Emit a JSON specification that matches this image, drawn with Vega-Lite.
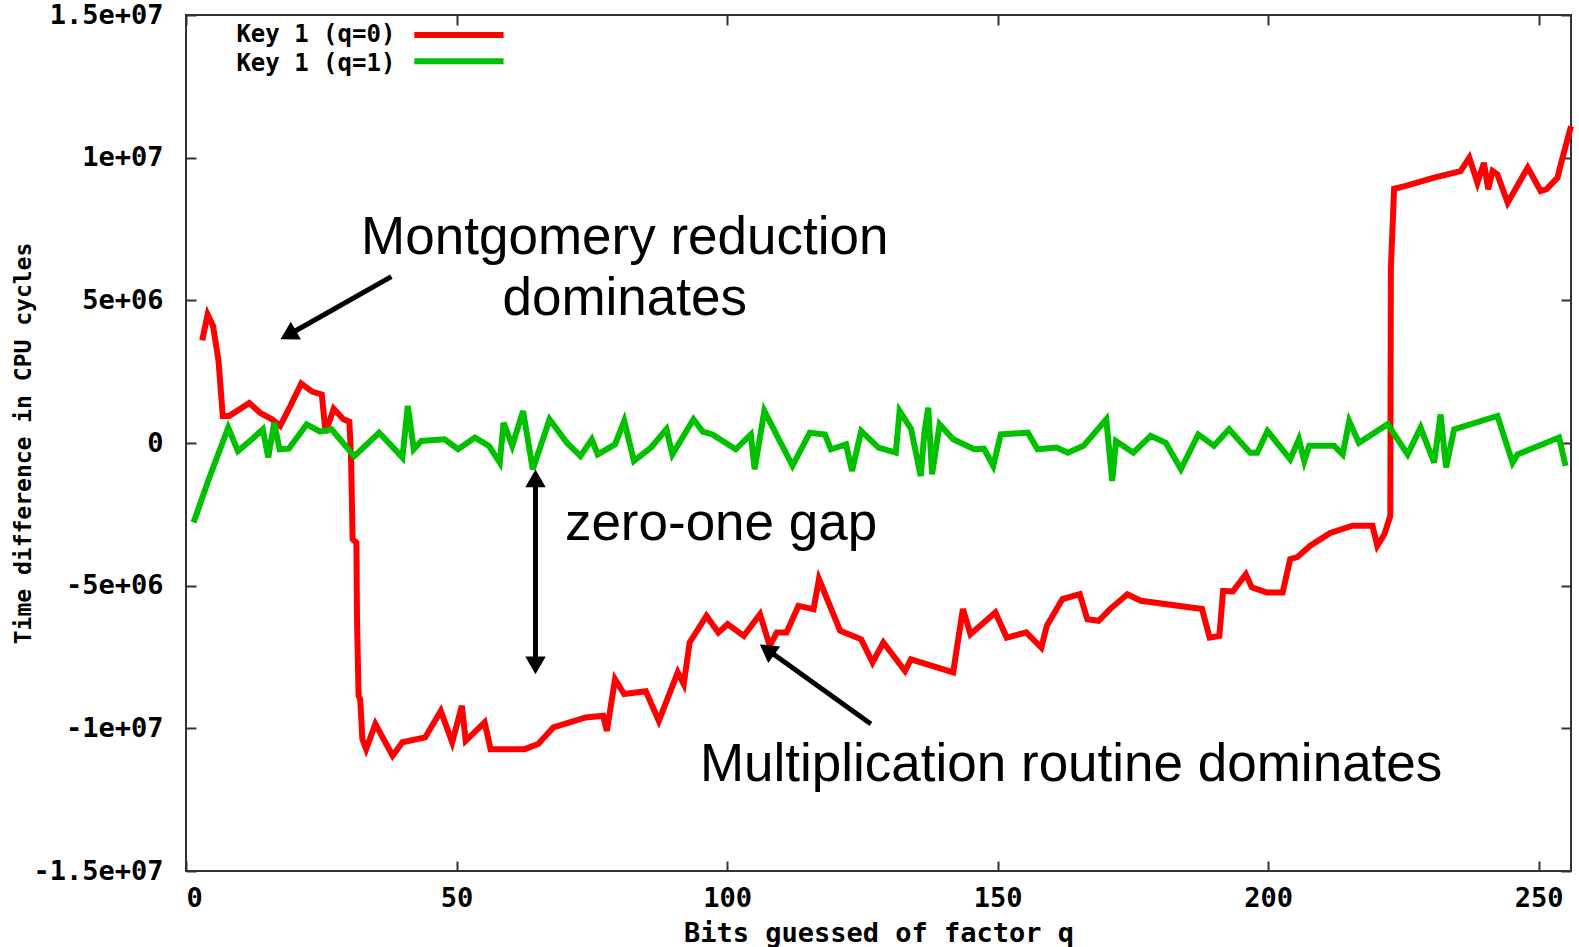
{
"$schema":"https://vega.github.io/schema/vega-lite/v6.json",
"width":1385,"height":856,
"autosize":{"type":"none"},
"padding":{"left":186,"top":15,"right":8,"bottom":76},
"background":"#ffffff",
"config":{
  "view":{"stroke":"#333333","strokeWidth":2},
  "axis":{"grid":false,"domain":false,"tickColor":"#333333","tickWidth":2,"tickSize":-10,"labelFont":"DejaVu Sans Mono","labelFontWeight":"bold","labelFontSize":27,"labelColor":"#000000","titleFont":"DejaVu Sans Mono","titleFontWeight":"bold","titleColor":"#000000"}
},
"datasets":{
"curves":[
{"key":"Key 1 (q=0)","q":3,"t":3600000},{"key":"Key 1 (q=0)","q":4,"t":4500000},{"key":"Key 1 (q=0)","q":5,"t":4100000},{"key":"Key 1 (q=0)","q":6,"t":2900000},{"key":"Key 1 (q=0)","q":6.8,"t":950000},{"key":"Key 1 (q=0)","q":8,"t":950000},{"key":"Key 1 (q=0)","q":11.7,"t":1400000},{"key":"Key 1 (q=0)","q":13.7,"t":1060000},{"key":"Key 1 (q=0)","q":15.9,"t":830000},{"key":"Key 1 (q=0)","q":17.4,"t":600000},{"key":"Key 1 (q=0)","q":19.3,"t":1300000},{"key":"Key 1 (q=0)","q":21.3,"t":2080000},{"key":"Key 1 (q=0)","q":23.3,"t":1800000},{"key":"Key 1 (q=0)","q":25.1,"t":1700000},{"key":"Key 1 (q=0)","q":25.8,"t":360000},{"key":"Key 1 (q=0)","q":27.3,"t":1200000},{"key":"Key 1 (q=0)","q":29.1,"t":830000},{"key":"Key 1 (q=0)","q":30.2,"t":750000},{"key":"Key 1 (q=0)","q":30.5,"t":-460000},{"key":"Key 1 (q=0)","q":30.8,"t":-3370000},{"key":"Key 1 (q=0)","q":31.5,"t":-3490000},{"key":"Key 1 (q=0)","q":31.6,"t":-6060000},{"key":"Key 1 (q=0)","q":31.9,"t":-8860000},{"key":"Key 1 (q=0)","q":32.2,"t":-8980000},{"key":"Key 1 (q=0)","q":32.6,"t":-10380000},{"key":"Key 1 (q=0)","q":33.3,"t":-10730000},{"key":"Key 1 (q=0)","q":35,"t":-9850000},{"key":"Key 1 (q=0)","q":38.2,"t":-10960000},{"key":"Key 1 (q=0)","q":40,"t":-10490000},{"key":"Key 1 (q=0)","q":44.2,"t":-10320000},{"key":"Key 1 (q=0)","q":47.1,"t":-9390000},{"key":"Key 1 (q=0)","q":49.2,"t":-10490000},{"key":"Key 1 (q=0)","q":51,"t":-9210000},{"key":"Key 1 (q=0)","q":51.7,"t":-10440000},{"key":"Key 1 (q=0)","q":55.2,"t":-9790000},{"key":"Key 1 (q=0)","q":56.3,"t":-10730000},{"key":"Key 1 (q=0)","q":62.6,"t":-10730000},{"key":"Key 1 (q=0)","q":65.1,"t":-10550000},{"key":"Key 1 (q=0)","q":67.9,"t":-9970000},{"key":"Key 1 (q=0)","q":73.9,"t":-9620000},{"key":"Key 1 (q=0)","q":77.1,"t":-9560000},{"key":"Key 1 (q=0)","q":77.8,"t":-10090000},{"key":"Key 1 (q=0)","q":79.3,"t":-8280000},{"key":"Key 1 (q=0)","q":81,"t":-8800000},{"key":"Key 1 (q=0)","q":85,"t":-8700000},{"key":"Key 1 (q=0)","q":87.4,"t":-9740000},{"key":"Key 1 (q=0)","q":90.9,"t":-8040000},{"key":"Key 1 (q=0)","q":92,"t":-8450000},{"key":"Key 1 (q=0)","q":93.1,"t":-6990000},{"key":"Key 1 (q=0)","q":96.2,"t":-6060000},{"key":"Key 1 (q=0)","q":98.4,"t":-6640000},{"key":"Key 1 (q=0)","q":100.1,"t":-6350000},{"key":"Key 1 (q=0)","q":103.1,"t":-6760000},{"key":"Key 1 (q=0)","q":106.1,"t":-6000000},{"key":"Key 1 (q=0)","q":107.9,"t":-7110000},{"key":"Key 1 (q=0)","q":109.2,"t":-6640000},{"key":"Key 1 (q=0)","q":111,"t":-6640000},{"key":"Key 1 (q=0)","q":113.2,"t":-5710000},{"key":"Key 1 (q=0)","q":116,"t":-5820000},{"key":"Key 1 (q=0)","q":117,"t":-4770000},{"key":"Key 1 (q=0)","q":120.9,"t":-6580000},{"key":"Key 1 (q=0)","q":124.8,"t":-6880000},{"key":"Key 1 (q=0)","q":126.9,"t":-7690000},{"key":"Key 1 (q=0)","q":128.9,"t":-6990000},{"key":"Key 1 (q=0)","q":132.9,"t":-7990000},{"key":"Key 1 (q=0)","q":134,"t":-7580000},{"key":"Key 1 (q=0)","q":141.8,"t":-8040000},{"key":"Key 1 (q=0)","q":143.6,"t":-5820000},{"key":"Key 1 (q=0)","q":145,"t":-6700000},{"key":"Key 1 (q=0)","q":149.6,"t":-5940000},{"key":"Key 1 (q=0)","q":151.7,"t":-6820000},{"key":"Key 1 (q=0)","q":155.3,"t":-6640000},{"key":"Key 1 (q=0)","q":158.1,"t":-7170000},{"key":"Key 1 (q=0)","q":159.1,"t":-6410000},{"key":"Key 1 (q=0)","q":162,"t":-5470000},{"key":"Key 1 (q=0)","q":165.2,"t":-5300000},{"key":"Key 1 (q=0)","q":166.6,"t":-6180000},{"key":"Key 1 (q=0)","q":168.7,"t":-6230000},{"key":"Key 1 (q=0)","q":170.8,"t":-5820000},{"key":"Key 1 (q=0)","q":174,"t":-5300000},{"key":"Key 1 (q=0)","q":176.5,"t":-5530000},{"key":"Key 1 (q=0)","q":187.8,"t":-5820000},{"key":"Key 1 (q=0)","q":189.2,"t":-6820000},{"key":"Key 1 (q=0)","q":191,"t":-6760000},{"key":"Key 1 (q=0)","q":191.7,"t":-5180000},{"key":"Key 1 (q=0)","q":193.5,"t":-5200000},{"key":"Key 1 (q=0)","q":195.9,"t":-4600000},{"key":"Key 1 (q=0)","q":197,"t":-5060000},{"key":"Key 1 (q=0)","q":199.8,"t":-5240000},{"key":"Key 1 (q=0)","q":202.7,"t":-5240000},{"key":"Key 1 (q=0)","q":204.1,"t":-4070000},{"key":"Key 1 (q=0)","q":205.4,"t":-4000000},{"key":"Key 1 (q=0)","q":207.8,"t":-3600000},{"key":"Key 1 (q=0)","q":211.5,"t":-3150000},{"key":"Key 1 (q=0)","q":215.6,"t":-2900000},{"key":"Key 1 (q=0)","q":219.3,"t":-2900000},{"key":"Key 1 (q=0)","q":220.2,"t":-3600000},{"key":"Key 1 (q=0)","q":221.5,"t":-3200000},{"key":"Key 1 (q=0)","q":222.6,"t":-2560000},{"key":"Key 1 (q=0)","q":222.7,"t":6080000},{"key":"Key 1 (q=0)","q":223.3,"t":8910000},{"key":"Key 1 (q=0)","q":225.3,"t":9000000},{"key":"Key 1 (q=0)","q":230.7,"t":9300000},{"key":"Key 1 (q=0)","q":235.6,"t":9530000},{"key":"Key 1 (q=0)","q":237.2,"t":10000000},{"key":"Key 1 (q=0)","q":238.7,"t":9120000},{"key":"Key 1 (q=0)","q":239.9,"t":9820000},{"key":"Key 1 (q=0)","q":240.7,"t":8890000},{"key":"Key 1 (q=0)","q":241.5,"t":9530000},{"key":"Key 1 (q=0)","q":242.4,"t":9410000},{"key":"Key 1 (q=0)","q":244.3,"t":8420000},{"key":"Key 1 (q=0)","q":248,"t":9650000},{"key":"Key 1 (q=0)","q":250.4,"t":8830000},{"key":"Key 1 (q=0)","q":251.5,"t":8900000},{"key":"Key 1 (q=0)","q":253.5,"t":9300000},{"key":"Key 1 (q=0)","q":254.1,"t":9760000},{"key":"Key 1 (q=0)","q":256,"t":11100000},
{"key":"Key 1 (q=1)","q":1.4,"t":-2790000},{"key":"Key 1 (q=1)","q":4.2,"t":-1270000},{"key":"Key 1 (q=1)","q":7.8,"t":540000},{"key":"Key 1 (q=1)","q":9.6,"t":-280000},{"key":"Key 1 (q=1)","q":12,"t":100000},{"key":"Key 1 (q=1)","q":14.2,"t":480000},{"key":"Key 1 (q=1)","q":15.2,"t":-510000},{"key":"Key 1 (q=1)","q":16.3,"t":710000},{"key":"Key 1 (q=1)","q":17.3,"t":-220000},{"key":"Key 1 (q=1)","q":19,"t":-200000},{"key":"Key 1 (q=1)","q":22.3,"t":650000},{"key":"Key 1 (q=1)","q":24.8,"t":400000},{"key":"Key 1 (q=1)","q":26.9,"t":480000},{"key":"Key 1 (q=1)","q":31.1,"t":-460000},{"key":"Key 1 (q=1)","q":35.7,"t":360000},{"key":"Key 1 (q=1)","q":38,"t":-100000},{"key":"Key 1 (q=1)","q":40,"t":-510000},{"key":"Key 1 (q=1)","q":41,"t":1300000},{"key":"Key 1 (q=1)","q":42.1,"t":-220000},{"key":"Key 1 (q=1)","q":43.5,"t":70000},{"key":"Key 1 (q=1)","q":47.8,"t":130000},{"key":"Key 1 (q=1)","q":50.3,"t":-220000},{"key":"Key 1 (q=1)","q":53.4,"t":190000},{"key":"Key 1 (q=1)","q":56,"t":-100000},{"key":"Key 1 (q=1)","q":58,"t":-690000},{"key":"Key 1 (q=1)","q":58.7,"t":710000},{"key":"Key 1 (q=1)","q":60.3,"t":-100000},{"key":"Key 1 (q=1)","q":62.3,"t":1120000},{"key":"Key 1 (q=1)","q":64.1,"t":-920000},{"key":"Key 1 (q=1)","q":67.2,"t":830000},{"key":"Key 1 (q=1)","q":70.4,"t":10000},{"key":"Key 1 (q=1)","q":72.9,"t":-460000},{"key":"Key 1 (q=1)","q":75,"t":130000},{"key":"Key 1 (q=1)","q":76.1,"t":-400000},{"key":"Key 1 (q=1)","q":79.3,"t":-50000},{"key":"Key 1 (q=1)","q":81,"t":770000},{"key":"Key 1 (q=1)","q":82.8,"t":-630000},{"key":"Key 1 (q=1)","q":86,"t":-150000},{"key":"Key 1 (q=1)","q":88.8,"t":480000},{"key":"Key 1 (q=1)","q":89.9,"t":-400000},{"key":"Key 1 (q=1)","q":93.8,"t":830000},{"key":"Key 1 (q=1)","q":95.5,"t":400000},{"key":"Key 1 (q=1)","q":97.3,"t":300000},{"key":"Key 1 (q=1)","q":101.6,"t":-220000},{"key":"Key 1 (q=1)","q":104.4,"t":300000},{"key":"Key 1 (q=1)","q":105.1,"t":-920000},{"key":"Key 1 (q=1)","q":106.9,"t":1120000},{"key":"Key 1 (q=1)","q":112.1,"t":-800000},{"key":"Key 1 (q=1)","q":115.3,"t":360000},{"key":"Key 1 (q=1)","q":118.1,"t":300000},{"key":"Key 1 (q=1)","q":119.2,"t":-220000},{"key":"Key 1 (q=1)","q":122,"t":-50000},{"key":"Key 1 (q=1)","q":123.1,"t":-980000},{"key":"Key 1 (q=1)","q":124.8,"t":420000},{"key":"Key 1 (q=1)","q":128,"t":-160000},{"key":"Key 1 (q=1)","q":131.2,"t":-340000},{"key":"Key 1 (q=1)","q":131.9,"t":1120000},{"key":"Key 1 (q=1)","q":134,"t":500000},{"key":"Key 1 (q=1)","q":135.8,"t":-1160000},{"key":"Key 1 (q=1)","q":136.5,"t":400000},{"key":"Key 1 (q=1)","q":137.2,"t":1240000},{"key":"Key 1 (q=1)","q":137.9,"t":-1100000},{"key":"Key 1 (q=1)","q":139.3,"t":650000},{"key":"Key 1 (q=1)","q":141.8,"t":130000},{"key":"Key 1 (q=1)","q":145.7,"t":-220000},{"key":"Key 1 (q=1)","q":147.5,"t":-200000},{"key":"Key 1 (q=1)","q":149.2,"t":-800000},{"key":"Key 1 (q=1)","q":150.6,"t":300000},{"key":"Key 1 (q=1)","q":155.6,"t":360000},{"key":"Key 1 (q=1)","q":157.4,"t":-220000},{"key":"Key 1 (q=1)","q":160.9,"t":-160000},{"key":"Key 1 (q=1)","q":163,"t":-340000},{"key":"Key 1 (q=1)","q":165.9,"t":-100000},{"key":"Key 1 (q=1)","q":170.1,"t":830000},{"key":"Key 1 (q=1)","q":171.2,"t":-1330000},{"key":"Key 1 (q=1)","q":171.9,"t":70000},{"key":"Key 1 (q=1)","q":175.1,"t":-340000},{"key":"Key 1 (q=1)","q":178.3,"t":250000},{"key":"Key 1 (q=1)","q":181.1,"t":10000},{"key":"Key 1 (q=1)","q":183.9,"t":-920000},{"key":"Key 1 (q=1)","q":187.1,"t":300000},{"key":"Key 1 (q=1)","q":190,"t":-100000},{"key":"Key 1 (q=1)","q":192.8,"t":480000},{"key":"Key 1 (q=1)","q":196.7,"t":-340000},{"key":"Key 1 (q=1)","q":198,"t":-340000},{"key":"Key 1 (q=1)","q":199.9,"t":420000},{"key":"Key 1 (q=1)","q":204.1,"t":-570000},{"key":"Key 1 (q=1)","q":205.7,"t":130000},{"key":"Key 1 (q=1)","q":206.7,"t":-630000},{"key":"Key 1 (q=1)","q":207.6,"t":-100000},{"key":"Key 1 (q=1)","q":212.2,"t":-100000},{"key":"Key 1 (q=1)","q":213.8,"t":-400000},{"key":"Key 1 (q=1)","q":215,"t":770000},{"key":"Key 1 (q=1)","q":216.8,"t":10000},{"key":"Key 1 (q=1)","q":222.1,"t":660000},{"key":"Key 1 (q=1)","q":225.8,"t":-400000},{"key":"Key 1 (q=1)","q":228.2,"t":540000},{"key":"Key 1 (q=1)","q":230.7,"t":-690000},{"key":"Key 1 (q=1)","q":231.9,"t":1000000},{"key":"Key 1 (q=1)","q":232.9,"t":-860000},{"key":"Key 1 (q=1)","q":234.4,"t":480000},{"key":"Key 1 (q=1)","q":242.4,"t":950000},{"key":"Key 1 (q=1)","q":245.2,"t":-690000},{"key":"Key 1 (q=1)","q":246.1,"t":-400000},{"key":"Key 1 (q=1)","q":253.8,"t":190000},{"key":"Key 1 (q=1)","q":255,"t":-800000}
]
},
"resolve":{"axis":{"x":"independent","y":"independent"}},
"layer":[
 {"data":{"name":"curves"},
  "mark":{"type":"line","strokeWidth":6},
  "encoding":{
   "x":{"field":"q","type":"quantitative","scale":{"domain":[0,256],"nice":false,"zero":false},
        "axis":{"values":[0,50,100,150,200,250],"title":"Bits guessed of factor q","titleFontSize":27,"labelPadding":24,"labelBaseline":"top","titleBaseline":"middle","titleY":62}},
   "y":{"field":"t","type":"quantitative","scale":{"domain":[-15000000,15000000],"nice":false,"zero":false},
        "axis":{"values":[-15000000,-10000000,-5000000,0,5000000,10000000,15000000],
                "labelExpr":"datum.value == 15000000 ? '1.5e+07' : datum.value == 10000000 ? '1e+07' : datum.value == 5000000 ? '5e+06' : datum.value == 0 ? '0' : datum.value == -5000000 ? '-5e+06' : datum.value == -10000000 ? '-1e+07' : '-1.5e+07'",
                "title":"Time difference in CPU cycles","titleFontSize":23,"labelPadding":33,"titleX":-163,"titleY":428,"titleBaseline":"middle","titleAngle":-90,"titleAlign":"center"}},
   "color":{"field":"key","type":"nominal","scale":{"domain":["Key 1 (q=0)","Key 1 (q=1)"],"range":["#ff0000","#00c000"]},"legend":null}
  }},
 {"data":{"values":[{}]},
  "mark":{"type":"text","align":"right","baseline":"middle","font":"DejaVu Sans Mono","fontWeight":"bold","fontSize":24,"color":"#000000"},
  "encoding":{
   "x":{"datum":38.7,"type":"quantitative","axis":{"orient":"top","values":[0,50,100,150,200,250],"labels":false,"title":null}},
   "y":{"datum":14300000,"type":"quantitative","axis":{"orient":"right","values":[-15000000,-10000000,-5000000,0,5000000,10000000,15000000],"labels":false,"title":null}},
   "text":{"value":"Key 1 (q=0)"}}},
 {"data":{"values":[{}]},
  "mark":{"type":"text","align":"right","baseline":"middle","font":"DejaVu Sans Mono","fontWeight":"bold","fontSize":24,"color":"#000000"},
  "encoding":{
   "x":{"datum":38.7,"type":"quantitative","axis":null},
   "y":{"datum":13300000,"type":"quantitative","axis":null},
   "text":{"value":"Key 1 (q=1)"}}},
 {"data":{"values":[{}]},
  "mark":{"type":"rule","strokeWidth":6,"color":"#ff0000"},
  "encoding":{
   "x":{"datum":42.2,"type":"quantitative","axis":null},"x2":{"datum":58.7},
   "y":{"datum":14300000,"type":"quantitative","axis":null}}},
 {"data":{"values":[{}]},
  "mark":{"type":"rule","strokeWidth":6,"color":"#00c000"},
  "encoding":{
   "x":{"datum":42.2,"type":"quantitative","axis":null},"x2":{"datum":58.7},
   "y":{"datum":13380000,"type":"quantitative","axis":null}}},
 {"data":{"values":[{}]},
  "mark":{"type":"text","align":"center","baseline":"alphabetic","font":"Liberation Sans","fontSize":53,"color":"#000000"},
  "encoding":{
   "x":{"datum":81.1,"type":"quantitative","axis":null},
   "y":{"datum":6610000,"type":"quantitative","axis":null},
   "text":{"value":"Montgomery reduction"}}},
 {"data":{"values":[{}]},
  "mark":{"type":"text","align":"center","baseline":"alphabetic","font":"Liberation Sans","fontSize":53,"color":"#000000"},
  "encoding":{
   "x":{"datum":81.1,"type":"quantitative","axis":null},
   "y":{"datum":4500000,"type":"quantitative","axis":null},
   "text":{"value":"dominates"}}},
 {"data":{"values":[{}]},
  "mark":{"type":"text","align":"center","baseline":"alphabetic","font":"Liberation Sans","fontSize":53,"color":"#000000"},
  "encoding":{
   "x":{"datum":98.9,"type":"quantitative","axis":null},
   "y":{"datum":-3410000,"type":"quantitative","axis":null},
   "text":{"value":"zero-one gap"}}},
 {"data":{"values":[{}]},
  "mark":{"type":"text","align":"center","baseline":"alphabetic","font":"Liberation Sans","fontSize":53,"color":"#000000"},
  "encoding":{
   "x":{"datum":163.6,"type":"quantitative","axis":null},
   "y":{"datum":-11840000,"type":"quantitative","axis":null},
   "text":{"value":"Multiplication routine dominates"}}},
 {"data":{"values":[{}]},
  "mark":{"type":"rule","strokeWidth":5,"color":"#000000"},
  "encoding":{
   "x":{"datum":37.96,"type":"quantitative","axis":null},"x2":{"datum":18.88},
   "y":{"datum":5830000,"type":"quantitative","axis":null},"y2":{"datum":3786000}}},
 {"data":{"values":[{}]},
  "mark":{"type":"point","shape":"triangle-up","filled":true,"size":420,"angle":240.4,"color":"#000000","opacity":1},
  "encoding":{
   "x":{"datum":18.88,"type":"quantitative","axis":null},
   "y":{"datum":3786000,"type":"quantitative","axis":null}}},
 {"data":{"values":[{}]},
  "mark":{"type":"rule","strokeWidth":5,"color":"#000000"},
  "encoding":{
   "x":{"datum":64.6,"type":"quantitative","axis":null},
   "y":{"datum":-1240000,"type":"quantitative","axis":null},"y2":{"datum":-7790000}}},
 {"data":{"values":[{}]},
  "mark":{"type":"point","shape":"triangle-up","filled":true,"size":420,"angle":0,"color":"#000000","opacity":1},
  "encoding":{
   "x":{"datum":64.6,"type":"quantitative","axis":null},
   "y":{"datum":-1240000,"type":"quantitative","axis":null}}},
 {"data":{"values":[{}]},
  "mark":{"type":"point","shape":"triangle-up","filled":true,"size":420,"angle":180,"color":"#000000","opacity":1},
  "encoding":{
   "x":{"datum":64.6,"type":"quantitative","axis":null},
   "y":{"datum":-7790000,"type":"quantitative","axis":null}}},
 {"data":{"values":[{}]},
  "mark":{"type":"rule","strokeWidth":5,"color":"#000000"},
  "encoding":{
   "x":{"datum":126.6,"type":"quantitative","axis":null},"x2":{"datum":107.4},
   "y":{"datum":-9850000,"type":"quantitative","axis":null},"y2":{"datum":-7240000}}},
 {"data":{"values":[{}]},
  "mark":{"type":"point","shape":"triangle-up","filled":true,"size":420,"angle":305.8,"color":"#000000","opacity":1},
  "encoding":{
   "x":{"datum":107.4,"type":"quantitative","axis":null},
   "y":{"datum":-7240000,"type":"quantitative","axis":null}}}
]
}
